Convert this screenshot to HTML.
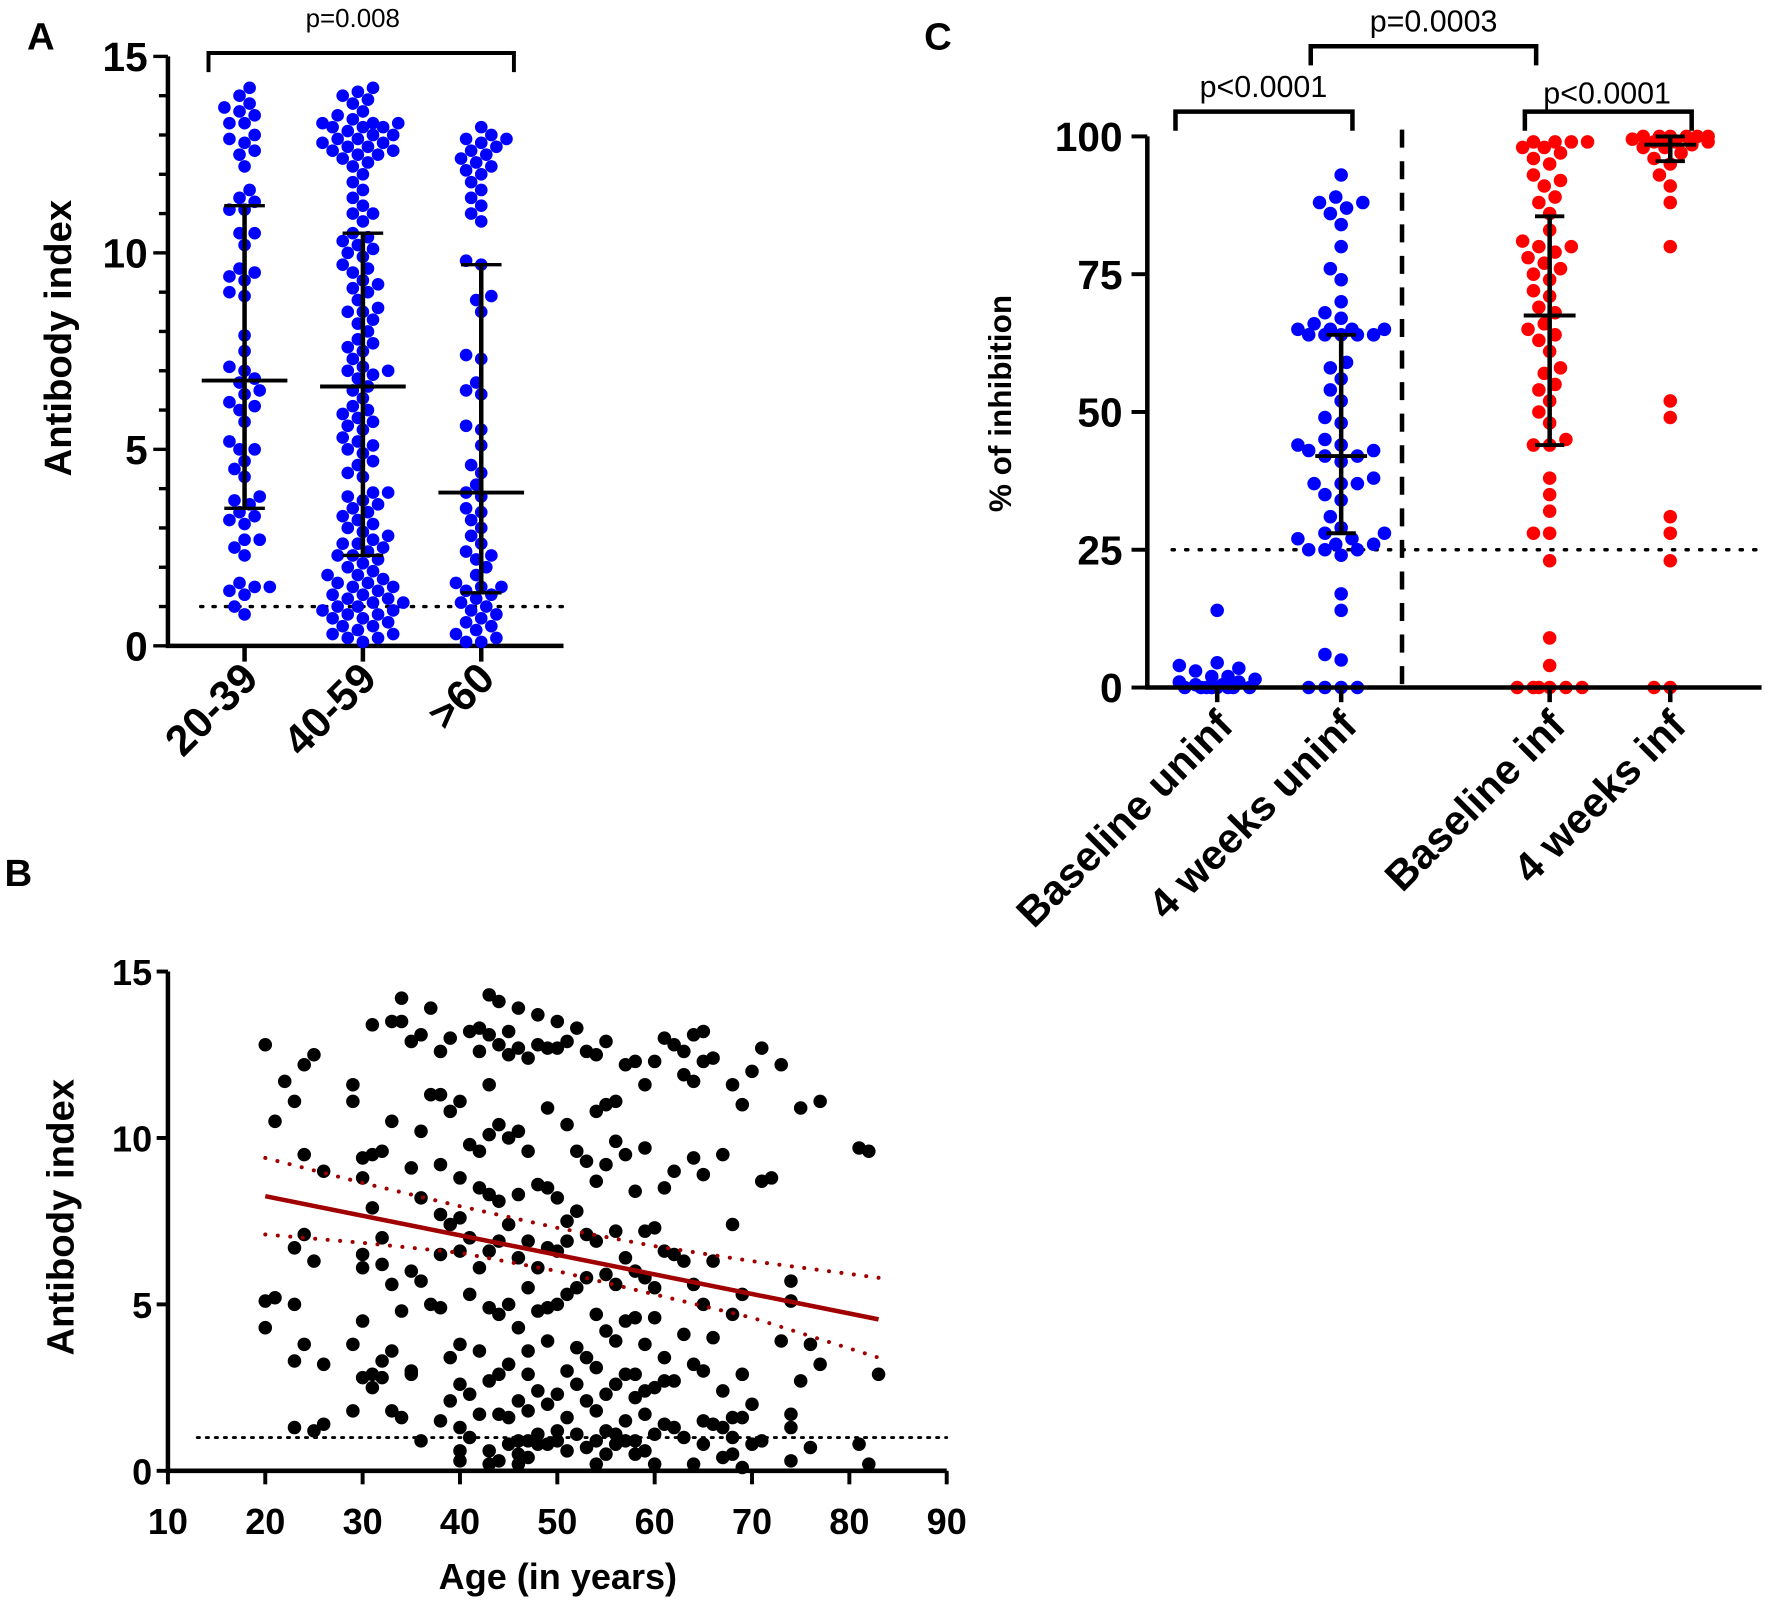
<!DOCTYPE html>
<html><head><meta charset="utf-8"><style>
html,body{margin:0;padding:0;background:#fff;}
svg{display:block;}
text{font-family:"Liberation Sans",Arial,sans-serif;}
.b{font-weight:bold;}
.n{font-family:"Liberation Sans Narrow","Liberation Sans",sans-serif;font-weight:bold;}
</style></head><body>
<svg id="fig" xmlns="http://www.w3.org/2000/svg" width="1770" height="1607" viewBox="0 0 1570.5 1425.8">
<rect width="1570.5" height="1425.8" fill="#fff"/>
<g id="panelA"></g>
<g id="panelB"></g>
<g id="panelC"></g>
</svg>
<script>
// ---------- Panel A data ----------
const aCategories = ["20-39","40-59",">60"];
const aGroup1 = [14.2,14.0,13.8,13.7,13.6,13.5,13.3,13.3,13.0,12.8,12.9,12.5,12.6,12.2,11.4,11.6,11.3,11.1,11.1,10.5,10.5,10.2,9.6,9.5,9.4,9.3,9.0,8.9,7.9,7.5,7.1,7.0,6.8,6.7,6.5,6.4,6.2,6.1,6.0,5.7,5.2,5.0,5.0,4.7,4.5,4.3,3.8,3.7,3.6,3.4,3.3,3.2,3.1,2.7,2.7,2.5,2.3,1.6,1.5,1.4,1.5,1.3,1.0,0.8];
const aGroup2 = [14.2,14.1,14.0,13.9,13.8,13.6,13.5,13.4,13.3,13.3,13.3,13.2,13.2,13.2,13.1,13.0,13.0,12.9,12.9,12.8,12.8,12.7,12.7,12.6,12.6,12.5,12.5,12.4,12.3,12.2,12.0,11.8,11.6,11.4,11.2,11.0,11.0,10.8,10.5,10.4,10.3,10.2,10.1,10.0,9.9,9.7,9.6,9.5,9.3,9.2,9.1,9.0,8.8,8.6,8.5,8.5,8.3,8.2,8.0,7.8,7.7,7.6,7.5,7.3,7.1,7.0,7.0,6.9,6.8,6.6,6.5,6.3,6.1,6.0,5.9,5.8,5.7,5.6,5.5,5.3,5.2,5.1,5.0,4.9,4.7,4.6,4.4,4.3,3.9,3.9,3.8,3.7,3.6,3.5,3.4,3.3,3.2,3.1,3.0,2.9,2.8,2.7,2.6,2.6,2.5,2.4,2.3,2.3,2.2,2.1,2.0,1.9,1.8,1.8,1.7,1.6,1.6,1.5,1.5,1.4,1.3,1.3,1.2,1.2,1.1,1.1,1.0,1.0,0.9,0.9,0.8,0.8,0.7,0.7,0.6,0.5,0.5,0.4,0.3,0.3,0.2,0.2,0.1];
const aGroup3 = [13.2,13.0,12.9,12.9,12.8,12.7,12.6,12.5,12.4,12.3,12.2,12.1,12.0,11.8,11.6,11.4,11.2,11.0,10.8,9.8,9.7,8.9,8.8,8.5,7.4,7.3,6.7,6.5,6.4,5.6,5.5,5.1,4.6,4.4,4.1,3.9,3.8,3.5,3.4,3.2,3.0,2.8,2.6,2.4,2.3,2.2,2.0,1.8,1.6,1.5,1.5,1.4,1.3,1.2,1.1,1.0,0.9,0.8,0.7,0.6,0.5,0.4,0.3,0.2,0.1,0.1];
const aCenter = [6.75,6.6,3.9];
const aLower = [3.5,2.3,1.35];
const aUpper = [11.2,10.5,9.7];
const aYTicks = [0,5,10,15];

// ---------- Panel B data ----------
const bAges = [20,20,20,21,21,22,23,23,23,23,23,24,24,24,24,25,25,25,26,26,26,29,29,29,29,30,30,30,30,30,30,31,31,31,31,31,32,32,32,32,32,33,33,33,33,33,34,34,34,34,35,35,35,35,35,36,36,36,36,36,37,37,37,38,38,38,38,38,38,38,39,39,39,39,39,40,40,40,40,40,40,40,40,40,41,41,41,41,41,41,42,42,42,42,42,42,42,43,43,43,43,43,43,43,43,43,43,44,44,44,44,44,44,44,44,44,45,45,45,45,45,45,45,45,46,46,46,46,46,46,46,46,46,46,47,47,47,47,47,47,47,47,47,48,48,48,48,48,48,48,48,49,49,49,49,49,49,49,49,50,50,50,50,50,50,50,50,51,51,51,51,51,51,51,51,52,52,52,52,52,52,52,53,53,53,53,53,53,53,54,54,54,54,54,54,54,54,54,55,55,55,55,55,55,55,55,56,56,56,56,56,56,56,56,57,57,57,57,57,57,57,58,58,58,58,58,58,58,58,59,59,59,59,59,59,59,59,60,60,60,60,60,60,60,61,61,61,61,61,61,62,62,62,62,62,63,63,63,63,63,64,64,64,64,64,64,65,65,65,65,65,65,65,66,66,66,66,67,67,67,67,68,68,68,68,68,68,69,69,69,69,69,70,70,70,71,71,71,72,73,73,74,74,74,74,74,75,75,76,76,77,77,81,81,82,82,83];
const bValues = [12.8,5.1,4.3,10.5,5.2,11.7,11.1,6.7,5.0,3.3,1.3,12.2,9.5,7.1,3.8,12.5,6.3,1.2,9.0,3.2,1.4,11.6,11.1,3.8,1.8,9.4,8.8,6.5,6.1,4.5,2.8,13.4,9.5,7.9,2.9,2.5,9.6,7.0,6.2,3.3,2.8,13.5,10.5,5.6,3.6,1.8,14.2,13.5,4.8,1.6,12.9,9.1,6.0,3.0,2.9,13.1,10.2,8.2,5.7,0.9,13.9,11.3,5.0,12.6,11.3,9.2,7.7,6.5,4.9,1.5,13.0,10.8,7.4,3.4,2.1,11.1,8.8,7.6,6.6,3.8,2.6,1.3,0.6,0.3,13.2,9.8,7.0,5.3,2.3,1.0,13.3,12.6,9.6,8.5,6.1,3.6,1.7,14.3,13.1,11.6,10.1,8.3,6.6,4.9,2.7,0.6,0.2,14.1,12.8,10.4,8.1,6.9,4.7,2.9,1.7,0.3,13.2,12.5,10.0,7.4,5.0,3.2,1.6,0.8,13.9,12.7,10.2,8.3,6.4,4.3,2.1,0.9,0.5,0.2,12.4,9.6,6.9,5.5,3.6,2.9,1.8,0.9,0.4,13.7,12.8,8.6,6.1,4.8,2.4,1.1,0.8,12.7,10.9,8.5,6.7,4.9,3.9,2.0,0.8,13.5,12.7,8.2,6.6,5.0,2.3,1.2,0.9,12.9,10.4,7.5,6.9,5.3,3.0,1.6,0.6,13.3,9.6,7.8,5.5,3.7,2.6,1.1,12.6,9.3,7.1,5.8,3.4,2.1,0.7,12.5,10.8,8.7,6.9,4.7,3.1,1.8,0.9,0.2,12.9,11.0,9.2,5.9,4.2,2.3,1.2,0.5,11.1,9.9,7.2,5.6,3.9,2.6,1.1,0.8,12.2,9.5,6.4,4.5,2.9,1.5,0.9,12.3,8.4,6.0,4.6,2.9,2.2,0.9,0.5,11.6,9.7,7.2,5.8,3.8,2.4,1.7,0.6,12.3,7.3,5.5,4.6,2.5,1.1,0.2,13.0,8.5,6.6,3.4,2.7,1.4,12.8,9.0,6.5,2.7,1.3,12.6,11.9,6.3,4.1,1.0,13.1,11.7,9.4,5.6,3.2,0.2,13.2,12.3,8.9,5.0,3.0,1.5,0.8,12.4,6.3,4.0,1.4,9.5,2.4,1.3,0.4,11.6,7.4,4.7,1.6,1.0,0.5,11.0,5.3,2.9,1.6,0.1,12.0,2.0,0.8,12.7,8.7,0.9,8.8,12.2,3.9,5.7,5.1,1.7,1.3,0.3,10.9,2.7,3.8,0.7,11.1,3.2,9.7,0.8,9.6,0.2,2.9];
const bFitAges = [20,83];
const bFitValues = [8.25,4.55];
const bCiAges = [20,30,40,50,60,70,83];
const bCiUpper = [9.4,8.65,7.95,7.3,6.75,6.3,5.8];
const bCiLower = [7.1,6.85,6.55,6.0,5.3,4.6,3.4];
const bXTicks = [10,20,30,40,50,60,70,80,90];
const bYTicks = [0,5,10,15];

// ---------- Panel C data ----------
const cCategories = ["Baseline uninf","4 weeks uninf","Baseline inf","4 weeks inf"];
const cBaseUninf = [14,4.5,4,3.5,3,2,2,1.5,1,1,0.5,0.5,0,0,0,0,0,0,0,0];
const cWeekUninf = [93,89,88,88,87,86,84,80,76,74,70,68,67,66,65,65,65,65,64,64,64,64,64,59,58,56,54,52,49,48,45,44,44,43,43,42,42,41,38,37,37,37,35,34,31,29,28,28,27,27,26,26,25,25,25,24,17,14,6,5,0,0,0,0];
const cBaseInf = [99,99,99,99,98,98,97,96,95,93,92,91,89,88,86,83,81,80,80,79,78,77,76,75,74,72,71,69,68,66,65,64,63,61,58,57,55,54,52,50,48,45,44,44,38,35,32,28,28,23,9,4,0,0,0,0,0,0];
const cWeekInf = [100,100,100,100,100,100,99.5,99.5,99,99,99,98.5,98,98,97,96,95,93,91,88,80,52,49,31,28,23,0,0];
const cCenter = [0,42,67.5,98.5];
const cLower = [0,28,44,95.5];
const cUpper = [0,64,85.5,100];
const cYTicks = [0,25,50,75,100];

const NS = "http://www.w3.org/2000/svg";
function mk(parent, tag, attrs, txt){
  const e = document.createElementNS(NS, tag);
  for (const k in attrs) e.setAttribute(k, attrs[k]);
  if (txt !== undefined) e.textContent = txt;
  parent.appendChild(e);
  return e;
}
function swarm(vals, yfn, cx, r, maxW){
  const placed = [];
  const order = vals.map((v,i)=>i).sort((a,b)=>vals[a]-vals[b]);
  const out = new Array(vals.length);
  const d = 2*r*0.95;
  const step = r*0.8;
  for (const i of order){
    const y = yfn(vals[i]);
    let best = null, bestScore = -1, bestOff = 0;
    for (let k=0;k<400;k++){
      const off = (k%2===0?1:-1)*Math.ceil(k/2)*step;
      if (Math.abs(off) > maxW) break;
      let minD = 1e9;
      for (const p of placed){ const dx=p[0]-(cx+off), dy=p[1]-y; const dd=Math.sqrt(dx*dx+dy*dy); if (dd<minD) minD=dd; }
      if (minD >= d){best=off;break;}
      if (minD > bestScore){bestScore=minD;bestOff=off;}
    }
    if (best===null) best = bestOff;
    placed.push([cx+best,y]);
    out[i]=[cx+best,y];
  }
  return out;
}

// ===== Panel A =====
(function(){
  const g = document.getElementById('panelA');
  const x0=149, x1=500, y0=573, y1=50;
  const ya = v => y0 - (v/15)*(y0-y1);
  const cx = [217,322,427];
  const t = mk(g,'text',{x:24,y:44,'font-size':34,class:'b'},'A');
   
  const th = mk(g,'line',{x1:178,x2:500,y1:ya(1),y2:ya(1),stroke:'#000','stroke-width':3,'stroke-dasharray':'2 9','stroke-linecap':'round'});
   
  const ax = mk(g,'path',{d:`M${x0} ${y1} V${y0} H${x1}`,fill:'none',stroke:'#000','stroke-width':4});
   
  for (let v=0; v<=15; v++){
    const maj = v%5===0;
    mk(g,'line',{x1:x0-(maj?13:8),x2:x0,y1:ya(v),y2:ya(v),stroke:'#000','stroke-width':3});
  }
  aYTicks.forEach(v=>{
    const e = mk(g,'text',{x:x0-18,y:ya(v)+13,'text-anchor':'end','font-size':36,class:'b'},String(v));
     
  });
  const yt = mk(g,'text',{x:0,y:0,transform:`translate(63,300) rotate(-90)`,'text-anchor':'middle','font-size':34,class:'b'},'Antibody index');
   
  const groups = [aGroup1,aGroup2,aGroup3];
  groups.forEach((vals,gi)=>{
    mk(g,'line',{x1:cx[gi],x2:cx[gi],y1:y0,y2:y0+14,stroke:'#000','stroke-width':4});
    const pts = swarm(vals, ya, cx[gi], 5.6, 40);
    pts.forEach(p=>{
      const c = mk(g,'circle',{cx:p[0],cy:p[1],r:5.6,fill:'#0000ff'});
       
    });
    const w = mk(g,'line',{x1:cx[gi],x2:cx[gi],y1:ya(aLower[gi]),y2:ya(aUpper[gi]),stroke:'#000','stroke-width':4});
     
    mk(g,'line',{x1:cx[gi]-18,x2:cx[gi]+18,y1:ya(aLower[gi]),y2:ya(aLower[gi]),stroke:'#000','stroke-width':3});
    mk(g,'line',{x1:cx[gi]-18,x2:cx[gi]+18,y1:ya(aUpper[gi]),y2:ya(aUpper[gi]),stroke:'#000','stroke-width':3});
    const m = mk(g,'line',{x1:cx[gi]-38,x2:cx[gi]+38,y1:ya(aCenter[gi]),y2:ya(aCenter[gi]),stroke:'#000','stroke-width':3.5});
     
    const lab = mk(g,'text',{x:0,y:0,transform:`translate(${cx[gi]+14},${604}) rotate(-45)`,'text-anchor':'end','font-size':38,class:'b'},aCategories[gi]);
     
  });
  const br = mk(g,'path',{d:'M185 64 V47 H456 V64',fill:'none',stroke:'#000','stroke-width':3.5});
   
  const pt = mk(g,'text',{x:313,y:24,'text-anchor':'middle','font-size':23},'p=0.008');
   
})();

// ===== Panel B =====
(function(){
  const g = document.getElementById('panelB');
  const x0=149, x1=840, y0=1305, y1=862;
  const xb = a => x0 + (a-10)/80*(x1-x0);
  const yb = v => y0 - v/15*(y0-y1);
  const t = mk(g,'text',{x:4,y:786,'font-size':34,class:'b'},'B');
   
  const th = mk(g,'line',{x1:175,x2:840,y1:yb(1),y2:yb(1),stroke:'#000','stroke-width':2.5,'stroke-dasharray':'2 6','stroke-linecap':'round'});
   
  bAges.forEach((a,i)=>{
    const c = mk(g,'circle',{cx:xb(a),cy:yb(bValues[i]),r:6,fill:'#000'});
     
  });
  const fit = mk(g,'line',{x1:xb(bFitAges[0]),y1:yb(bFitValues[0]),x2:xb(bFitAges[1]),y2:yb(bFitValues[1]),stroke:'#a00000','stroke-width':4});
   
  [bCiUpper,bCiLower].forEach(arr=>{
    const d = bCiAges.map((a,i)=>(i?'L':'M')+xb(a)+' '+yb(arr[i])).join(' ');
    const p = mk(g,'path',{d:d,fill:'none',stroke:'#a00000','stroke-width':3.5,'stroke-dasharray':'0.1 11','stroke-linecap':'round'});
     
  });
  const ax = mk(g,'path',{d:`M${x0} ${y1} V${y0} H${x1}`,fill:'none',stroke:'#000','stroke-width':4});
   
  bYTicks.forEach(v=>{
    mk(g,'line',{x1:x0-10,x2:x0,y1:yb(v),y2:yb(v),stroke:'#000','stroke-width':3.5});
    const e = mk(g,'text',{x:x0-14,y:yb(v)+12,'text-anchor':'end','font-size':32,class:'n'},String(v));
     
  });
  bXTicks.forEach(v=>{
    mk(g,'line',{x1:xb(v),x2:xb(v),y1:y0,y2:y0+12,stroke:'#000','stroke-width':3.5});
    const e = mk(g,'text',{x:xb(v),y:y0+56,'text-anchor':'middle','font-size':32,class:'n'},String(v));
     
  });
  const xt = mk(g,'text',{x:495,y:1410,'text-anchor':'middle','font-size':32,class:'n'},'Age (in years)');
   
  const yt = mk(g,'text',{x:0,y:0,transform:'translate(65,1080) rotate(-90)','text-anchor':'middle','font-size':34,class:'n'},'Antibody index');
   
})();

// ===== Panel C =====
(function(){
  const g = document.getElementById('panelC');
  const x0=1018, x1=1563, y0=610, y1=121;
  const yc = v => y0 - v/100*(y0-y1);
  const cx = [1080,1190,1375,1482];
  const t = mk(g,'text',{x:820,y:44,'font-size':34,class:'b'},'C');
   
  const th = mk(g,'line',{x1:1040,x2:1563,y1:yc(25),y2:yc(25),stroke:'#000','stroke-width':3,'stroke-dasharray':'2 10','stroke-linecap':'round'});
   
  const dv = mk(g,'line',{x1:1244,x2:1244,y1:115,y2:612,stroke:'#000','stroke-width':4,'stroke-dasharray':'16 12'});
   
  const groups = [cBaseUninf,cWeekUninf,cBaseInf,cWeekInf];
  const colors = ['#0000ff','#0000ff','#ff0000','#ff0000'];
  const widths = [36,40,36,36];
  groups.forEach((vals,gi)=>{
    const pts = swarm(vals, yc, cx[gi], 6, widths[gi]);
    pts.forEach(p=>{
      const c = mk(g,'circle',{cx:p[0],cy:p[1],r:6,fill:colors[gi]});
       
    });
    if (cUpper[gi] > cLower[gi]){
      const w = mk(g,'line',{x1:cx[gi],x2:cx[gi],y1:yc(cLower[gi]),y2:yc(cUpper[gi]),stroke:'#000','stroke-width':4});
       
      mk(g,'line',{x1:cx[gi]-13,x2:cx[gi]+13,y1:yc(cLower[gi]),y2:yc(cLower[gi]),stroke:'#000','stroke-width':3.5});
      mk(g,'line',{x1:cx[gi]-13,x2:cx[gi]+13,y1:yc(cUpper[gi]),y2:yc(cUpper[gi]),stroke:'#000','stroke-width':3.5});
    }
    const m = mk(g,'line',{x1:cx[gi]-23,x2:cx[gi]+23,y1:yc(cCenter[gi]),y2:yc(cCenter[gi]),stroke:'#000','stroke-width':3.5});
     
    mk(g,'line',{x1:cx[gi],x2:cx[gi],y1:y0,y2:y0+13,stroke:'#000','stroke-width':4});
    const lab = mk(g,'text',{x:0,y:0,transform:`translate(${cx[gi]+16},${646}) rotate(-45)`,'text-anchor':'end','font-size':37,class:'b'},cCategories[gi]);
     
  });
  const ax = mk(g,'path',{d:`M${x0} ${y1} V${y0} H${x1}`,fill:'none',stroke:'#000','stroke-width':4});
   
  cYTicks.forEach(v=>{
    mk(g,'line',{x1:x0-14,x2:x0,y1:yc(v),y2:yc(v),stroke:'#000','stroke-width':3.5});
    const e = mk(g,'text',{x:x0-22,y:yc(v)+13,'text-anchor':'end','font-size':36,class:'b'},String(v));
     
  });
  const yt = mk(g,'text',{x:0,y:0,transform:'translate(897,358) rotate(-90)','text-anchor':'middle','font-size':28,class:'n'},'% of inhibition');
   
  const brs = [['M1043 116 V99 H1200 V116',1121,86,'p<0.0001'],['M1163 58 V41 H1363 V58',1272,28,'p=0.0003'],['M1353 116 V99 H1501 V116',1426,92,'p<0.0001']];
  brs.forEach(b=>{
    const p = mk(g,'path',{d:b[0],fill:'none',stroke:'#000','stroke-width':4});
     
    const tx = mk(g,'text',{x:b[1],y:b[2],'text-anchor':'middle','font-size':27},b[3]);
     
  });
})();
</script>
</body></html>
